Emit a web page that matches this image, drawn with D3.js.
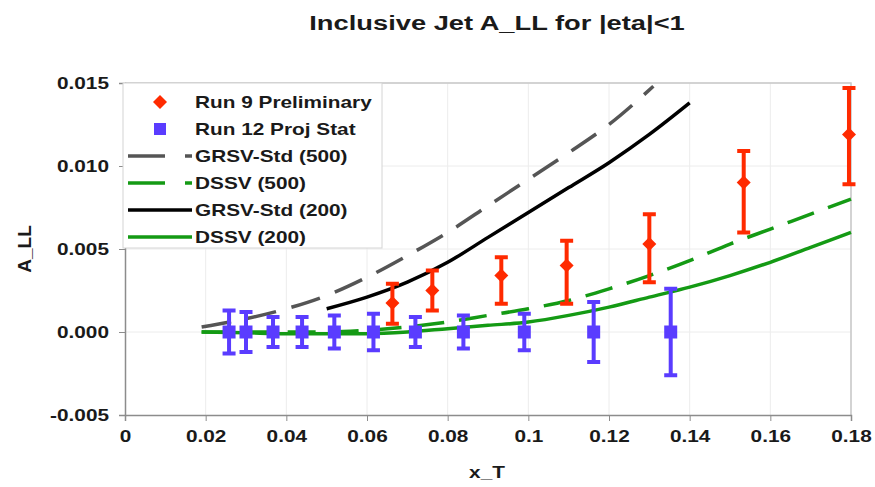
<!DOCTYPE html>
<html>
<head>
<meta charset="utf-8">
<script src="https://cdn.jsdelivr.net/npm/d3@7"></script>
<style>
  body { margin: 0; background: #fff; }
  text { font-family: Arial, "Liberation Sans", sans-serif; font-weight: bold; fill: #1a1a1a; }
</style>
</head>
<body>
<div id="chart"></div>
<script>
// tick values / labels
const xTicks = [0, 0.02, 0.04, 0.06, 0.08, 0.1, 0.12, 0.14, 0.16, 0.18];
const xTickLabels = ['0', '0.02', '0.04', '0.06', '0.08', '0.1', '0.12', '0.14', '0.16', '0.18'];
const yTicks = [-0.005, 0, 0.005, 0.01, 0.015];
const yTickLabels = ['-0.005', '0.000', '0.005', '0.010', '0.015'];

// Run 9 Preliminary (points with asymmetric error bars)
const run9X = [0.0663, 0.0762, 0.0933, 0.1095, 0.130, 0.1534, 0.1795];
const run9Y = [0.00175, 0.0025, 0.0034, 0.0040, 0.0053, 0.0090, 0.0119];
const run9Lo = [0.0005, 0.0013, 0.0017, 0.0017, 0.0030, 0.0060, 0.0089];
const run9Hi = [0.0029, 0.0037, 0.0045, 0.0055, 0.0071, 0.0109, 0.0147];

// Run 12 Proj Stat
const run12X = [0.0258, 0.030, 0.0367, 0.0439, 0.0519, 0.0616, 0.072, 0.0839, 0.099, 0.1162, 0.1353];
const run12Y = [0, 0, 0, 0, 0, 0, 0, 0, 0, 0, 0];
const run12Err = [0.0013, 0.0012, 0.0009, 0.0009, 0.0010, 0.0011, 0.0009, 0.0010, 0.0011, 0.0018, 0.0026];

// theory curves
const grsv500X = [0.019, 0.03, 0.04, 0.05, 0.06, 0.07, 0.08, 0.09, 0.10, 0.11, 0.12, 0.131];
const grsv500Y = [0.0003, 0.0008, 0.0014, 0.0022, 0.0033, 0.0046, 0.0060, 0.0076, 0.0092, 0.0108, 0.0125, 0.0148];
const grsv200X = [0.05, 0.06, 0.07, 0.08, 0.09, 0.10, 0.11, 0.12, 0.13, 0.14];
const grsv200Y = [0.0014, 0.0021, 0.0030, 0.0042, 0.0057, 0.0072, 0.0087, 0.0102, 0.0119, 0.0138];
const dssvX = [0.019, 0.03, 0.04, 0.05, 0.06, 0.07, 0.08, 0.09, 0.10, 0.11, 0.12, 0.13, 0.14, 0.15, 0.16, 0.17, 0.18];
const dssv500Y = [0.0000, 0.0000, 0.0000, 0.0000, 0.0001, 0.0003, 0.0006, 0.0010, 0.0014, 0.0019, 0.0026, 0.0034, 0.0043, 0.0053, 0.0062, 0.0071, 0.0080];
const dssv200Y = [0.0000, -0.00005, -0.0001, -0.0001, -0.0001, 0.0000, 0.0002, 0.0004, 0.0006, 0.0010, 0.0015, 0.0021, 0.0027, 0.0034, 0.0042, 0.0051, 0.0060];

const legendLabels = ['Run 9 Preliminary', 'Run 12 Proj Stat', 'GRSV-Std (500)', 'DSSV (500)', 'GRSV-Std (200)', 'DSSV (200)'];

const RED = '#ff2a00', BLUE = '#5a3cff', GREEN = '#149a14', GRAY = '#555555';
const stretch = 1.3;   // the reference text is wider than plain Arial

const width = 875, height = 487;
const plot = {left: 125, right: 851, top: 83, bottom: 415};

const svg = d3.select('#chart').append('svg')
    .attr('width', width)
    .attr('height', height);

const x = d3.scaleLinear().domain([0, 0.18]).range([plot.left, plot.right]);
const y = d3.scaleLinear().domain([-0.005, 0.015]).range([plot.bottom, plot.top]);

// grid
svg.append('g').selectAll('line')
    .data(yTicks.slice(1))
    .join('line')
    .attr('x1', plot.left).attr('x2', plot.right)
    .attr('y1', d => y(d)).attr('y2', d => y(d))
    .attr('stroke', '#ececec');
svg.append('g').selectAll('line')
    .data(xTicks.slice(1))
    .join('line')
    .attr('x1', d => x(d)).attr('x2', d => x(d))
    .attr('y1', plot.top).attr('y2', plot.bottom)
    .attr('stroke', '#ececec');

// frame (top / right)
svg.append('path')
    .attr('d', `M${plot.left},${plot.top}H${plot.right}V${plot.bottom}`)
    .attr('fill', 'none')
    .attr('stroke', '#c8c8c8')
    .attr('stroke-width', 1.5);

// axes
const xAxis = d3.axisBottom(x).tickValues(xTicks)
    .tickFormat((d, i) => xTickLabels[i]).tickSizeOuter(0).tickSize(6);
const yAxis = d3.axisLeft(y).tickValues(yTicks)
    .tickFormat((d, i) => yTickLabels[i]).tickSizeOuter(0).tickSize(6);

const xAxisG = svg.append('g')
    .attr('transform', `translate(0,${plot.bottom})`)
    .call(xAxis);
const yAxisG = svg.append('g')
    .attr('transform', `translate(${plot.left},0)`)
    .call(yAxis);

[xAxisG, yAxisG].forEach(g => {
  g.select('.domain').attr('stroke', '#8c8c8c').attr('stroke-width', 1.5);
  g.selectAll('.tick line').attr('stroke', '#8c8c8c');
  g.selectAll('.tick text')
      .attr('font-size', 16)
      .attr('fill', '#1a1a1a')
      .attr('font-family', 'Arial, "Liberation Sans", sans-serif');
});
xAxisG.selectAll('.tick text').attr('y', 16).attr('transform', `scale(${stretch},1)`);
yAxisG.selectAll('.tick text').attr('x', -16 / stretch).attr('transform', `scale(${stretch},1)`);

// curves
const line = d3.line().x(d => x(d[0])).y(d => y(d[1])).curve(d3.curveMonotoneX);
const curves = [
  {xs: grsv500X, ys: grsv500Y, color: GRAY, dash: '30,16'},
  {xs: dssvX, ys: dssv500Y, color: GREEN, dash: '28,15'},
  {xs: grsv200X, ys: grsv200Y, color: '#000', dash: null},
  {xs: dssvX, ys: dssv200Y, color: GREEN, dash: null}
];
svg.append('g').selectAll('path')
    .data(curves)
    .join('path')
    .attr('d', c => line(c.xs.map((v, i) => [v, c.ys[i]])))
    .attr('fill', 'none')
    .attr('stroke', c => c.color)
    .attr('stroke-width', 3.5)
    .attr('stroke-dasharray', c => c.dash);

// Run 12 points
const run12 = run12X.map((v, i) => ({x: v, y: run12Y[i], lo: run12Y[i] - run12Err[i], hi: run12Y[i] + run12Err[i]}));
const r12 = svg.append('g').selectAll('g').data(run12).join('g');
r12.append('path')
    .attr('d', d => `M${x(d.x)},${y(d.lo)}V${y(d.hi)}M${x(d.x) - 6.5},${y(d.lo)}h13M${x(d.x) - 6.5},${y(d.hi)}h13`)
    .attr('stroke', BLUE).attr('stroke-width', 4).attr('fill', 'none');
r12.append('rect')
    .attr('x', d => x(d.x) - 6.5).attr('y', d => y(d.y) - 6.5)
    .attr('width', 13).attr('height', 13)
    .attr('fill', BLUE);

// Run 9 points
const run9 = run9X.map((v, i) => ({x: v, y: run9Y[i], lo: run9Lo[i], hi: run9Hi[i]}));
const r9 = svg.append('g').selectAll('g').data(run9).join('g');
r9.append('path')
    .attr('d', d => `M${x(d.x)},${y(d.lo)}V${y(d.hi)}M${x(d.x) - 6.5},${y(d.lo)}h13M${x(d.x) - 6.5},${y(d.hi)}h13`)
    .attr('stroke', RED).attr('stroke-width', 4).attr('fill', 'none');
r9.append('path')
    .attr('d', d => `M${x(d.x)},${y(d.y) - 7}l7,7l-7,7l-7,-7z`)
    .attr('fill', RED);

// legend
const legend = svg.append('g');
legend.append('rect')
    .attr('x', 123).attr('y', 83).attr('width', 259).attr('height', 165)
    .attr('fill', '#fff').attr('stroke', '#d4d4d4');
const rowY = i => 102 + i * 27;
legend.append('path')
    .attr('d', `M160,${rowY(0) - 7}l7,7l-7,7l-7,-7z`).attr('fill', RED);
legend.append('rect')
    .attr('x', 154).attr('y', rowY(1) - 6).attr('width', 12).attr('height', 12).attr('fill', BLUE);
curves.forEach((c, k) => {
  legend.append('line')
      .attr('x1', 128).attr('x2', 192)
      .attr('y1', rowY(k + 2)).attr('y2', rowY(k + 2))
      .attr('stroke', c.color).attr('stroke-width', 3.5)
      .attr('stroke-dasharray', c.dash ? '37,20' : null);
});
legendLabels.forEach((t, i) => {
  legend.append('text')
      .attr('transform', `translate(195,${rowY(i) + 6}) scale(${stretch},1)`)
      .attr('font-size', 16)
      .text(t);
});

// titles
svg.append('text')
    .attr('transform', `translate(497,30) scale(${stretch},1)`)
    .attr('text-anchor', 'middle')
    .attr('font-size', 21)
    .text('Inclusive Jet A_LL for |eta|<1');

svg.append('text')
    .attr('transform', `translate(487,478) scale(${stretch},1)`)
    .attr('text-anchor', 'middle')
    .attr('font-size', 16)
    .text('x_T');

svg.append('text')
    .attr('transform', 'translate(31,249) rotate(-90)')
    .attr('text-anchor', 'middle')
    .attr('font-size', 19)
    .text('A_LL');
</script>
</body>
</html>
